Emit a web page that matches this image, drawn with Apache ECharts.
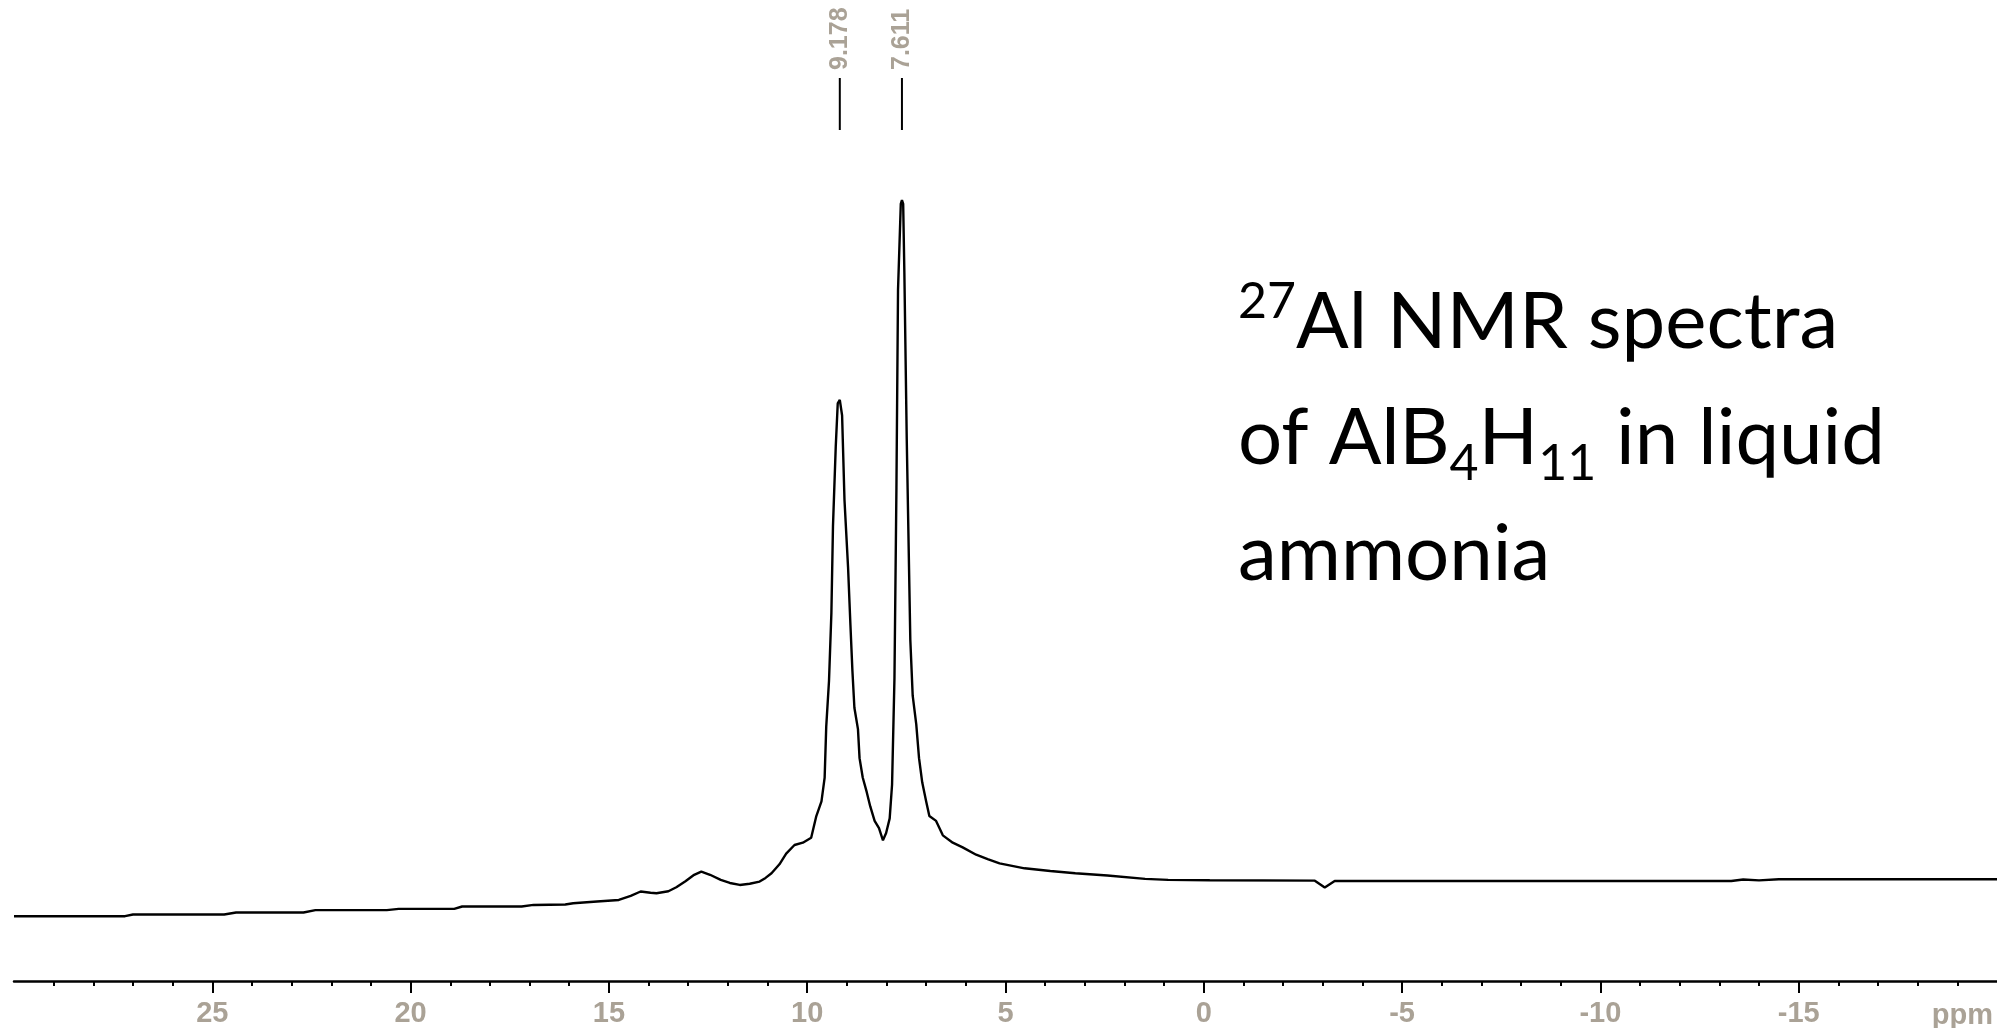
<!DOCTYPE html>
<html>
<head>
<meta charset="utf-8">
<title>27Al NMR spectrum of AlB4H11 in liquid ammonia</title>
<script src="https://cdn.jsdelivr.net/npm/echarts@6/dist/echarts.min.js"></script>
<style>
  html, body { margin: 0; padding: 0; background: #fff; }
  #chart { width: 1997px; height: 1028px; }
</style>
</head>
<body>
<div id="chart"></div>
<script>
// Chemical shift (ppm), from the low-field end to the high-field end
const shiftPpm = [
  30.0, 27.2, 27.0, 24.7, 24.4, 22.7, 22.4, 20.6, 20.3, 18.9,
  18.7, 17.2, 16.9, 16.1, 15.9, 15.3, 14.75, 14.45, 14.2, 13.95,
  13.8, 13.5, 13.3, 13.07, 12.85, 12.67, 12.45, 12.18, 11.95, 11.7,
  11.45, 11.2, 11.05, 10.9, 10.7, 10.53, 10.32, 10.11, 9.90, 9.77,
  9.64, 9.56, 9.52, 9.45, 9.39, 9.35, 9.28, 9.23, 9.178, 9.12,
  9.06, 8.97, 8.91, 8.86, 8.81, 8.72, 8.68, 8.60, 8.50, 8.41,
  8.30, 8.19, 8.09, 8.01, 7.92, 7.86, 7.80, 7.75, 7.71, 7.64,
  7.611, 7.58, 7.55, 7.49, 7.40, 7.34, 7.25, 7.18, 7.10, 7.00,
  6.92, 6.75, 6.58, 6.33, 6.08, 5.74, 5.45, 5.15, 4.52, 3.87,
  3.24, 2.43, 1.48, 0.9, -0.15, -2.8, -3.05, -3.3, -13.3, -13.6,
  -14.0, -14.5, -20.0
];

// Signal intensity (arbitrary units) at each shift above
const intensity = [
  8.30, 8.30, 8.52, 8.52, 8.77, 8.77, 9.07, 9.07, 9.23, 9.23,
  9.54, 9.54, 9.74, 9.80, 9.96, 10.18, 10.38, 10.9, 11.46, 11.3,
  11.24, 11.49, 12.0, 12.77, 13.6, 14.01, 13.6, 12.94, 12.55, 12.30,
  12.45, 12.73, 13.2, 13.79, 14.94, 16.30, 17.41, 17.71, 18.34, 21.12,
  22.99, 26.05, 32.57, 38.44, 47.13, 58.24, 68.45, 73.95, 74.41, 72.41,
  61.61, 53.00, 45.59, 39.72, 34.99, 32.25, 28.53, 26.05, 24.21, 22.35,
  20.50, 19.58, 18.01, 18.95, 20.82, 25.16, 38.74, 63.15, 88.51, 99.5,
  100.0, 99.5, 90.68, 69.35, 43.68, 36.53, 32.86, 28.53, 25.44, 22.99,
  21.12, 20.50, 18.65, 17.71, 17.11, 16.17, 15.6, 15.07, 14.43, 14.09,
  13.79, 13.50, 13.07, 12.95, 12.90, 12.85, 11.97, 12.81, 12.81, 13.0,
  12.88, 13.03, 13.03
];

// Picked peak positions (ppm)
const peakShifts = [9.178, 7.611];

// Labelled major ticks on the shift axis
const majorTicks = [25, 20, 15, 10, 5, 0, -5, -10, -15];
const axisUnit = 'ppm';

const titleText = '{sup|27}Al NMR spectra\nof AlB{sub|4}H{sub|11} in liquid\nammonia';

const labelColor = '#aaa296';
const labelFont = '"Liberation Sans", Arial, sans-serif';
const textFont = 'Lato, "Open Sans", sans-serif';
const points = shiftPpm.map((x, i) => [x, intensity[i]]);

const chart = echarts.init(document.getElementById('chart'), null, { renderer: 'canvas' });

chart.setOption({
  animation: false,
  backgroundColor: '#ffffff',
  grid: { left: 14, right: -1, top: 200, bottom: 45, containLabel: false },
  xAxis: {
    type: 'value',
    min: -20,
    max: 30,
    interval: 5,
    inverse: true,
    axisLine: { show: true, lineStyle: { color: '#000', width: 2.5 } },
    axisTick: { show: true, length: 12, customValues: majorTicks, lineStyle: { color: '#000', width: 2 } },
    minorTick: { show: true, splitNumber: 5, length: 5, lineStyle: { color: '#000', width: 2 } },
    axisLabel: {
      show: true,
      customValues: majorTicks,
      margin: 18,
      color: labelColor,
      fontFamily: labelFont,
      fontWeight: 'bold',
      fontSize: 29,
      formatter: v => (majorTicks.indexOf(v) >= 0 ? String(v) : '')
    },
    splitLine: { show: false },
    minorSplitLine: { show: false }
  },
  yAxis: {
    type: 'value',
    min: 0,
    max: 100,
    show: false,
    splitLine: { show: false }
  },
  series: [{
    type: 'line',
    data: points,
    showSymbol: false,
    symbol: 'none',
    lineStyle: { color: '#000', width: 2.4 },
    clip: false
  }]
});

// Peak markers, unit label and annotation placed from the axis scale
const toX = v => chart.convertToPixel({ gridIndex: 0 }, [v, 0])[0];
const graphics = [];

peakShifts.forEach(p => {
  const px = toX(p);
  graphics.push({
    type: 'line',
    shape: { x1: px, y1: 78, x2: px, y2: 130 },
    style: { stroke: '#000', lineWidth: 2 }
  });
  graphics.push({
    type: 'text',
    x: px,
    y: 70,
    rotation: Math.PI / 2,
    style: {
      text: p.toFixed(3),
      fill: labelColor,
      font: 'bold 25px ' + labelFont,
      align: 'left',
      verticalAlign: 'middle'
    }
  });
});

graphics.push({
  type: 'text',
  x: toX(-20) - 4,
  y: 1001,
  style: {
    text: axisUnit,
    fill: labelColor,
    font: 'bold 29px ' + labelFont,
    align: 'right',
    verticalAlign: 'top'
  }
});

graphics.push({
  type: 'text',
  x: 1238,
  y: 265,
  style: {
    text: titleText,
    fill: '#000',
    fontFamily: textFont,
    fontSize: 78,
    lineHeight: 116,
    align: 'left',
    verticalAlign: 'top',
    rich: {
      sup: { fontFamily: textFont, fontSize: 50, fill: '#000', padding: [0, 0, 42, 0] },
      sub: { fontFamily: textFont, fontSize: 50, fill: '#000', padding: [50, 0, 0, 0] }
    }
  }
});

chart.setOption({ graphic: graphics });
</script>
</body>
</html>
